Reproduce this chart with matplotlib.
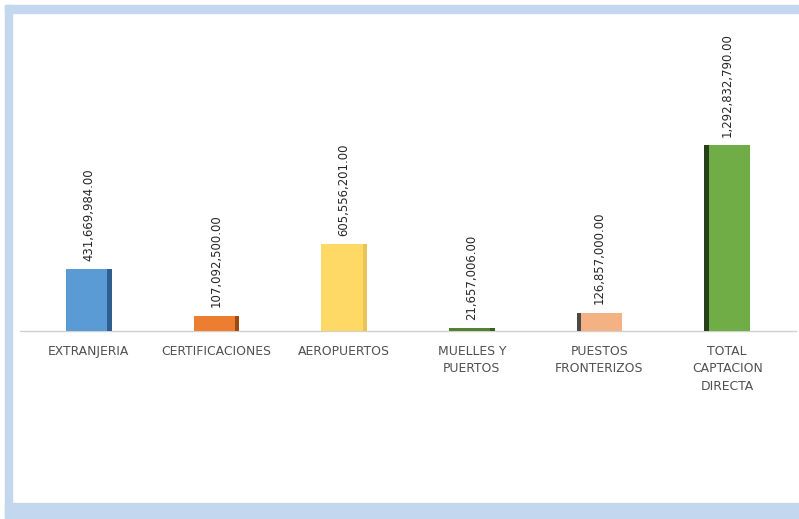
import numpy as np
import matplotlib.pyplot as plt
from matplotlib.patches import Rectangle

# ===== DATA =====
categorias = ["EXTRANJERIA", "CERTIFICACIONES", "AEROPUERTOS",
              "MUELLES Y\nPUERTOS", "PUESTOS\nFRONTERIZOS", "TOTAL\nCAPTACION\nDIRECTA"]
montos = [431669984.00, 107092500.00, 605556201.00,
          21657006.00, 126857000.00, 1292832790.00]

# ===== STYLE =====
colores = ["#5b9bd5", "#ed7d31", "#ffd966", "#548235", "#f4b183", "#70ad47"]
lados = ["#2f5f8f", "#9c4a14", "#e8c457", "#3b5e25", "#4a4a4a", "#26401a"]
lado_pos = [1, 1, 1, 1, -1, -1]   # +1 = dark edge on right, -1 = on left

W, H = 799, 519
fig = plt.figure(figsize=(W / 100, H / 100), dpi=100)
fig.patch.set_facecolor("white")

# light blue frame around the chart area
borde = "#c3d8ee"
fig.patches.append(Rectangle((5 / W, 1 - 13 / H), 1 - 5 / W, 8 / H,
                             transform=fig.transFigure, color=borde, zorder=0))
fig.patches.append(Rectangle((5 / W, 1 - 518 / H), 7 / W, 513 / H,
                             transform=fig.transFigure, color=borde, zorder=0))
fig.patches.append(Rectangle((5 / W, 1 - 518 / H), 1 - 5 / W, 15 / H,
                             transform=fig.transFigure, color=borde, zorder=0))

# plot area: baseline at y=331 px, categories from x=25 to x=791
ax = fig.add_axes([25 / W, (H - 331) / H, 766 / W, 311 / H])
ax.set_facecolor("none")

x = np.arange(len(categorias))
ancho = 0.36
ax.bar(x, montos, width=ancho, color=colores, zorder=2)

# narrow darker strip on one side of each bar
franja = 0.035
for xi, m, c, s in zip(x, montos, lados, lado_pos):
    ax.bar(xi + s * (ancho / 2 - franja / 2), m, width=franja, color=c, zorder=3)

# rotated value labels above each bar
for xi, m in zip(x, montos):
    ax.annotate(f"{m:,.2f}", (xi, m), xytext=(0, 6), textcoords="offset points",
                rotation=90, ha="center", va="bottom", fontsize=8.4,
                color="#262626")

ax.set_xlim(-0.5, len(categorias) - 0.5)
ax.set_ylim(0, max(montos) * 311 / 186)

ax.set_xticks(x)
ax.set_xticklabels(categorias, fontsize=8.9, color="#505050", linespacing=1.45)
ax.tick_params(axis="x", length=0, pad=10)
ax.set_yticks([])
for lado in ["top", "right", "left", "bottom"]:
    ax.spines[lado].set_visible(False)
ax.axhline(0, xmin=-0.007, xmax=1.006, color="#d0d0d0", lw=1, clip_on=False, zorder=1)

fig.savefig("out.png", dpi=100)
